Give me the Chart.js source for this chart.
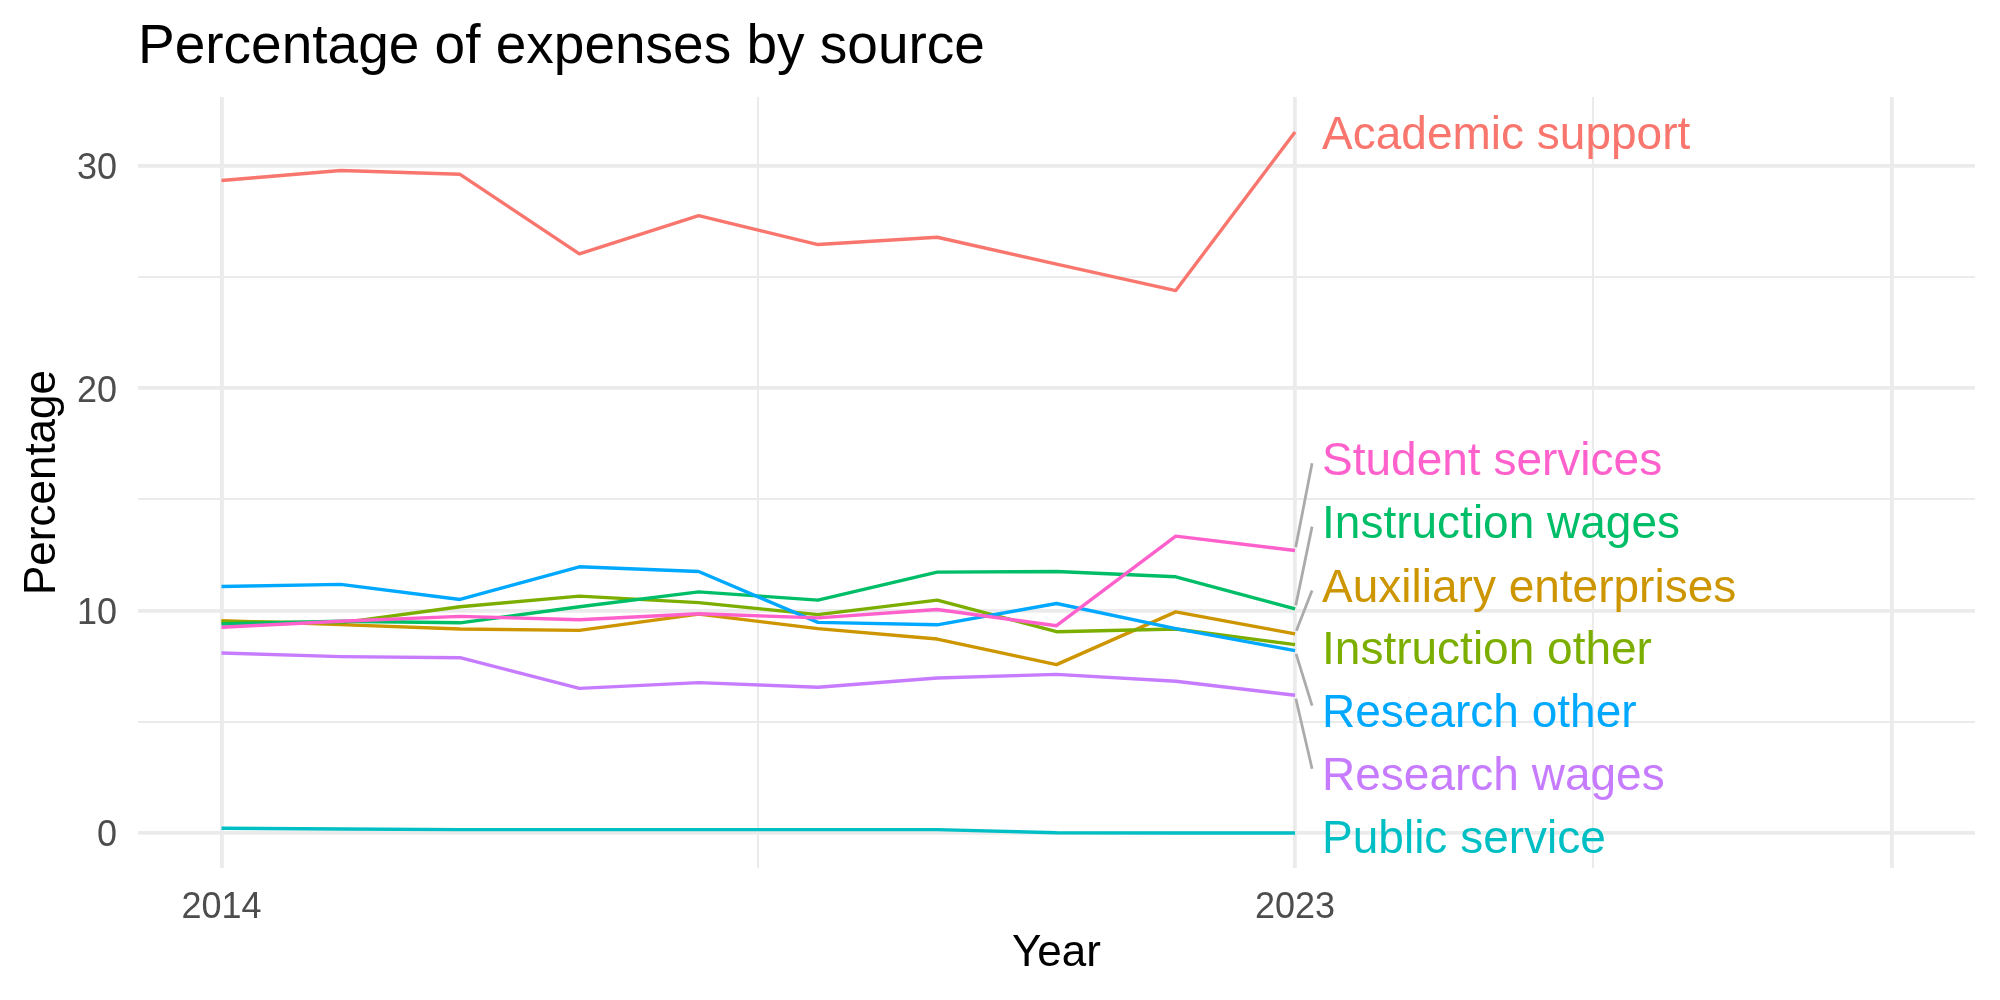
<!DOCTYPE html>
<html>
<head>
<meta charset="utf-8">
<title>Percentage of expenses by source</title>
<script src="https://cdn.jsdelivr.net/npm/chart.js@4.4.1/dist/chart.umd.min.js"></script>
<style>
    html, body { margin: 0; padding: 0; background: #ffffff; }
    #wrap { width: 2000px; height: 1000px; }
</style>
</head>
<body>
<div id="wrap"><canvas id="expensesChart" width="2000" height="1000"></canvas></div>
<script>
const years = [2014, 2015, 2016, 2017, 2018, 2019, 2020, 2021, 2022, 2023];

const sources = [
    "Academic support",
    "Auxiliary enterprises",
    "Instruction other",
    "Instruction wages",
    "Public service",
    "Research other",
    "Research wages",
    "Student services",
];

const academicSupport      = [29.34, 29.79, 29.62, 26.04, 27.76, 26.46, 26.79, 25.58, 24.39, 31.52];
const auxiliaryEnterprises = [9.55, 9.37, 9.17, 9.11, 9.84, 9.19, 8.72, 7.57, 9.94, 8.95];
const instructionOther     = [9.50, 9.45, 10.17, 10.65, 10.36, 9.82, 10.47, 9.05, 9.17, 8.47];
const instructionWages     = [9.40, 9.52, 9.45, 10.17, 10.84, 10.47, 11.73, 11.76, 11.52, 10.08];
const publicService        = [0.21, 0.18, 0.15, 0.15, 0.15, 0.15, 0.15, 0.01, 0.00, 0.00];
const researchOther        = [11.08, 11.18, 10.50, 11.97, 11.76, 9.47, 9.36, 10.32, 9.19, 8.20];
const researchWages        = [8.09, 7.93, 7.88, 6.50, 6.76, 6.55, 6.97, 7.13, 6.82, 6.19];
const studentServices      = [9.25, 9.52, 9.74, 9.59, 9.86, 9.67, 10.05, 9.32, 13.35, 12.70];

const xBreaks = [2014, 2023, 2028];
const xTickLabels = ["2014", "2023"];
const yBreaks = [0, 10, 20, 30];
const yTickLabels = ["0", "10", "20", "30"];

// label heights (in percent) after repelling, same order as sources
const labelPos = [31.53, 11.13, 8.33, 14.0, -0.14, 5.5, 2.66, 16.85];

const seriesValues = [
    academicSupport, auxiliaryEnterprises, instructionOther, instructionWages,
    publicService, researchOther, researchWages, studentServices,
];
const colors = ["#F8766D", "#CD9600", "#7CAE00", "#00BE67", "#00BFC4", "#00A9FF", "#C77CFF", "#FF61CC"];

const FONT = "'Liberation Sans', Arial, sans-serif";

// limits like ggplot: data range + 5% each side
const xLo = years[0], xHi = xBreaks[xBreaks.length - 1];
const xPad = (xHi - xLo) * 0.05;
const allVals = seriesValues.flat();
const yLo = Math.min(0, ...allVals), yHi = Math.max(...allVals);
const yPad = (yHi - yLo) * 0.05;

// minor breaks sit halfway between majors
function withMinor(b) {
    const out = [];
    for (let i = 0; i < b.length; i++) {
        out.push(b[i]);
        if (i < b.length - 1) out.push((b[i] + b[i + 1]) / 2);
    }
    return out;
}
const xGrid = withMinor(xBreaks);
const yGrid = withMinor(yBreaks);

const datasets = sources.map(function (name, i) {
    return {
        label: name,
        data: years.map((yr, j) => ({ x: yr, y: seriesValues[i][j] })),
        borderColor: colors[i],
        backgroundColor: colors[i],
        borderWidth: 3.4,
        pointRadius: 0,
        pointHoverRadius: 0,
        tension: 0,
        borderJoinStyle: "round",
        fill: false,
    };
}).reverse(); // chart.js paints the first dataset on top

// canvas "middle" sits a bit high compared with R's text centring
const yLabelNudge = {
    id: "yLabelNudge",
    beforeDraw(chart) {
        chart.scales.y.getLabelItems().forEach(function (item) {
            if (item._nudged) return;
            item.options.translation[1] += 3.5;
            item._nudged = true;
        });
    },
};

const endLabels = {
    id: "endLabels",
    afterDatasetsDraw(chart) {
        const ctx = chart.ctx;
        const xs = chart.scales.x;
        const ys = chart.scales.y;
        const last = years.length - 1;
        ctx.save();
        sources.forEach(function (name, i) {
            const px = xs.getPixelForValue(years[last]);
            const py = ys.getPixelForValue(seriesValues[i][last]);
            const ly = ys.getPixelForValue(labelPos[i]);

            if (Math.abs(ly - py) > 20) {
                const dir = ly < py ? -1 : 1;
                const ex = px + 17;
                const ey = ly - dir * 5;
                const len = Math.hypot(ex - px, ey - py);
                const sx = px + (ex - px) / len * 3.5;
                const sy = py + (ey - py) / len * 3.5;
                ctx.strokeStyle = "#ABABAB";
                ctx.lineWidth = 2.8;
                ctx.lineCap = "butt";
                ctx.beginPath();
                ctx.moveTo(sx, sy);
                ctx.lineTo(ex, ey);
                ctx.stroke();
            }

            ctx.fillStyle = colors[i];
            ctx.font = "46px " + FONT;
            ctx.textAlign = "left";
            ctx.textBaseline = "middle";
            ctx.fillText(name, px + 27, ly + 4);
        });
        ctx.restore();
    },
};

const canvas = document.getElementById("expensesChart");

new Chart(canvas.getContext("2d"), {
    type: "line",
    data: { datasets: datasets },
    plugins: [yLabelNudge, endLabels],
    options: {
        responsive: false,
        animation: false,
        devicePixelRatio: 1,
        layout: { padding: { left: 0, right: 25, top: 0, bottom: 0 } },
        plugins: {
            legend: { display: false },
            tooltip: { enabled: false },
            title: {
                display: true,
                text: "Percentage of expenses by source",
                align: "start",
                fullSize: false,
                color: "#000000",
                font: { family: FONT, size: 55, weight: "normal" },
                padding: { top: 14.6, bottom: 16.4 },
            },
        },
        scales: {
            x: {
                type: "linear",
                min: xLo - xPad,
                max: xHi + xPad,
                afterBuildTicks: function (scale) {
                    scale.ticks = xGrid.map(v => ({ value: v }));
                },
                afterFit: function (scale) { scale.height = 132; },
                ticks: {
                    autoSkip: false,
                    maxRotation: 0,
                    padding: 18,
                    color: "#4D4D4D",
                    font: { family: FONT, size: 36 },
                    callback: function (value) {
                        return xTickLabels.includes(String(value)) ? String(value) : "";
                    },
                },
                grid: {
                    color: "#EBEBEB",
                    drawTicks: false,
                    lineWidth: function (c) {
                        return xBreaks.includes(c.tick.value) ? 3.8 : 2;
                    },
                },
                border: { display: false },
                title: {
                    display: true,
                    text: "Year",
                    color: "#000000",
                    font: { family: FONT, size: 44 },
                    padding: { top: 0, bottom: 20 },
                },
            },
            y: {
                type: "linear",
                min: yLo - yPad,
                max: yHi + yPad,
                afterBuildTicks: function (scale) {
                    scale.ticks = yGrid.map(v => ({ value: v }));
                },
                afterFit: function (scale) { scale.width = 138; },
                ticks: {
                    autoSkip: false,
                    padding: 21,
                    color: "#4D4D4D",
                    font: { family: FONT, size: 36 },
                    callback: function (value) {
                        return yTickLabels.includes(String(value)) ? String(value) : "";
                    },
                },
                grid: {
                    color: "#EBEBEB",
                    drawTicks: false,
                    lineWidth: function (c) {
                        return yBreaks.includes(c.tick.value) ? 3.8 : 2;
                    },
                },
                border: { display: false },
                title: {
                    display: true,
                    text: "Percentage",
                    color: "#000000",
                    font: { family: FONT, size: 44 },
                    padding: { top: 16.6, bottom: 0 },
                },
            },
        },
    },
});
</script>
</body>
</html>
